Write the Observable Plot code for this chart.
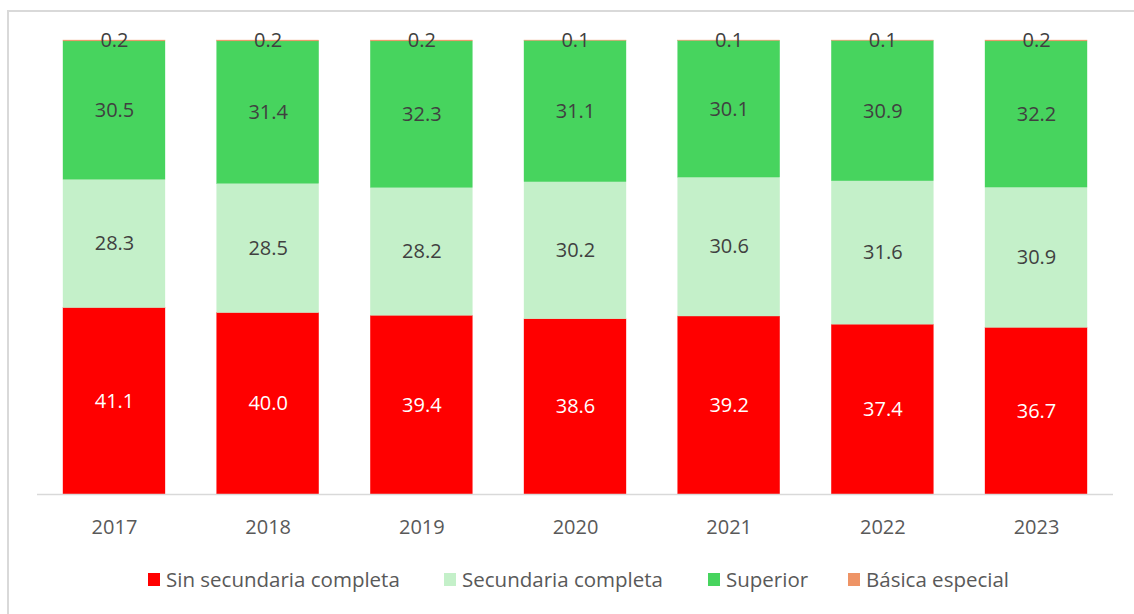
<!DOCTYPE html>
<html>
<head>
<meta charset="utf-8">
<script src="https://cdn.jsdelivr.net/npm/d3@7"></script>
<script src="https://cdn.jsdelivr.net/npm/@observablehq/plot@0.6"></script>
<style>
  html, body { margin: 0; padding: 0; background: #fff; }
  #wrap { position: relative; width: 1134px; height: 614px; overflow: hidden; font-family: "Open Sans", sans-serif; }
  #frame { position: absolute; left: 7px; top: 10px; width: 1140px; height: 620px; border: 2px solid #d9d9d9; box-sizing: border-box; }
  #chart { position: absolute; left: 0; top: 0; }
  #legend { position: absolute; top: 565px; left: 0; width: 1134px; height: 28px; }
  .item { position: absolute; top: 0; display: flex; align-items: center; font-size: 20.5px; color: #595959; white-space: nowrap; }
  .sw { width: 12px; height: 13px; margin-right: 6px; }
</style>
</head>
<body>
<div id="wrap">
  <div id="frame"></div>
  <div id="chart"></div>
  <div id="legend"></div>
</div>
<script>
const years = ["2017", "2018", "2019", "2020", "2021", "2022", "2023"];
const series = ["Sin secundaria completa", "Secundaria completa", "Superior", "Básica especial"];
const colors = ["#ff0000", "#c4f0c9", "#47d45e", "#ee9466"];
const labelColors = ["#ffffff", "#404040", "#404040", "#404040"];
const sinSecundaria = [41.1, 40.0, 39.4, 38.6, 39.2, 37.4, 36.7];
const secundaria    = [28.3, 28.5, 28.2, 30.2, 30.6, 31.6, 30.9];
const superior      = [30.5, 31.4, 32.3, 31.1, 30.1, 30.9, 32.2];
const basicaEspecial = [0.2, 0.2, 0.2, 0.1, 0.1, 0.1, 0.2];

const seriesValues = [sinSecundaria, secundaria, superior, basicaEspecial];
const data = [];
series.forEach((s, i) => years.forEach((y, j) => data.push({year: y, serie: s, value: seriesValues[i][j], si: i})));

const stackOpts = {x: "year", y: "value", z: "serie", offset: "normalize", order: null};

const chart = Plot.plot({
  width: 1134,
  height: 550,
  marginLeft: 37,
  marginRight: 21,
  marginTop: 40,
  marginBottom: 56,
  style: {fontFamily: "'Open Sans', sans-serif", background: "transparent"},
  x: {domain: years, paddingInner: 0.336, paddingOuter: 0.169, round: false, label: null},
  y: {axis: null, domain: [0, 1]},
  color: {domain: series, range: colors},
  marks: [
    Plot.barY(data, Plot.stackY({...stackOpts, fill: "serie", stroke: "serie", strokeWidth: 0.5, strokeOpacity: 0.6})),
    Plot.ruleY([0], {stroke: "#d9d9d9", strokeWidth: 1.5}),
    Plot.text(data, Plot.stackY({...stackOpts, text: d => d.value.toFixed(1), fill: d => labelColors[d.si], fontSize: 20})),
    Plot.axisX({tickSize: 0, tickPadding: 25, fontSize: 20, color: "#595959", label: null})
  ]
});
document.getElementById("chart").appendChild(chart);

const legendX = [148, 444, 708, 848];
const legend = document.getElementById("legend");
series.forEach((s, i) => {
  const it = document.createElement("div");
  it.className = "item";
  it.style.left = legendX[i] + "px";
  it.innerHTML = `<span class="sw" style="background:${colors[i]}"></span><span>${s}</span>`;
  legend.appendChild(it);
});
</script>
</body>
</html>
